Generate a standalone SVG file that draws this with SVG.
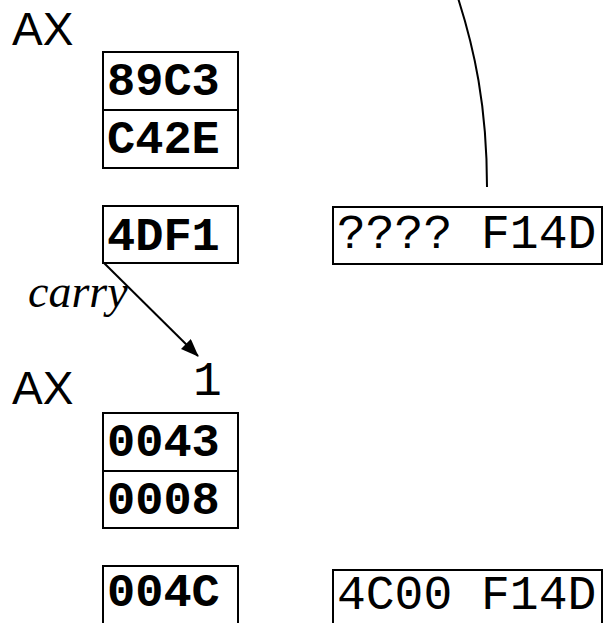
<svg xmlns="http://www.w3.org/2000/svg" width="607" height="623" viewBox="0 0 607 623">
  <style>
    .box { fill: #fff; stroke: #000; stroke-width: 2; }
    .reg { font-family: "Liberation Mono", "Courier New", monospace; font-size: 47px; font-weight: bold; fill: #000; }
    .mem { font-family: "Liberation Mono", "Courier New", monospace; font-size: 48px; fill: #000; }
    .lbl { font-family: "Liberation Sans", Arial, sans-serif; font-size: 46px; fill: #000; }
    .it { font-family: "Liberation Serif", "Times New Roman", serif; font-style: italic; font-size: 46px; fill: #000; }
    .wire { fill: none; stroke: #000; stroke-width: 2; }
  </style>
  <defs>
    <marker id="arrow" markerWidth="18" markerHeight="14" refX="17" refY="7" orient="auto" markerUnits="userSpaceOnUse">
      <path d="M0,0 L18,7 L0,14 Z" fill="#000"/>
    </marker>
  </defs>

  <rect width="607" height="623" fill="#fff"/>

  <!-- upper half: AX before the add -->
  <g id="ax-label-1"><text class="lbl" x="12" y="45">AX</text></g>
  <g id="ax-pair-1">
    <rect class="box" x="103" y="52" width="135" height="58"/>
    <rect class="box" x="103" y="110" width="135" height="58"/>
    <text class="reg" x="107" y="95">89C3</text>
    <text class="reg" x="107" y="153">C42E</text>
  </g>
  <g id="sum-1">
    <rect class="box" x="103" y="206" width="135" height="57"/>
    <text class="reg" x="107" y="250">4DF1</text>
  </g>
  <g id="mem-1">
    <rect class="box" x="333" y="207" width="269" height="57"/>
    <text class="mem" x="337" y="248">???? F14D</text>
  </g>
  <g id="carry-label"><text class="it" x="28" y="307">carry</text></g>

  <!-- lower half: AX after the add -->
  <g id="ax-label-2"><text class="lbl" x="12" y="404">AX</text></g>
  <g id="carry-bit"><text class="mem" x="193" y="395">1</text></g>
  <g id="ax-pair-2">
    <rect class="box" x="103" y="413" width="135" height="58"/>
    <rect class="box" x="103" y="471" width="135" height="57"/>
    <text class="reg" x="107" y="456">0043</text>
    <text class="reg" x="107" y="514">0008</text>
  </g>
  <g id="sum-2">
    <rect class="box" x="103" y="566" width="135" height="60"/>
    <text class="reg" x="107" y="606">004C</text>
  </g>
  <g id="mem-2">
    <rect class="box" x="333" y="570" width="269" height="60"/>
    <text class="mem" x="337" y="609">4C00 F14D</text>
  </g>

  <!-- connectors -->
  <g id="connectors">
    <path class="wire" d="M458,-2 C474,48 487,105 487,187"/>
    <line class="wire" x1="104" y1="263" x2="198" y2="356" marker-end="url(#arrow)"/>
  </g>
</svg>
